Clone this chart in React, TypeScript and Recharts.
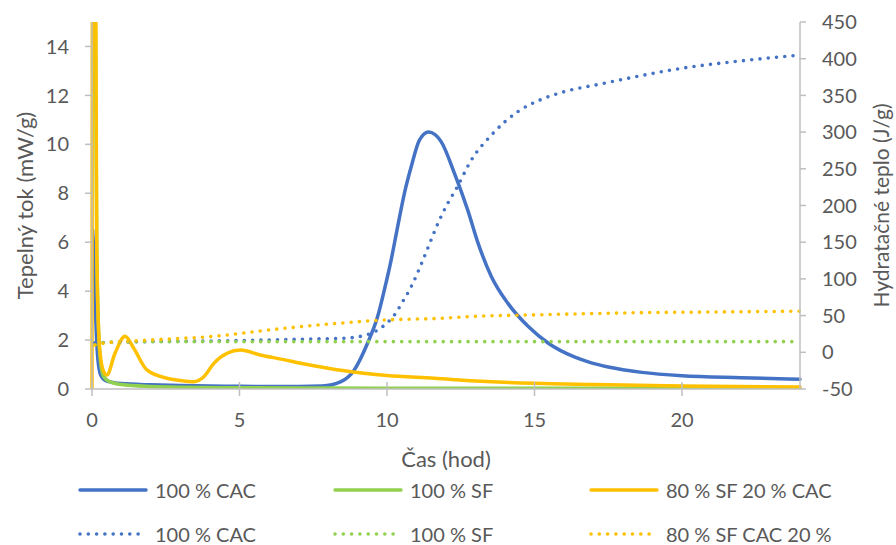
import React from "react";
import { Legend, Line, LineChart, XAxis, YAxis } from "recharts";

// heat flow (mW/g), left axis
const cacFlowTime = [0.02, 0.08, 0.13, 0.2, 0.3, 0.45, 0.7, 1, 2, 3, 5, 7, 7.8, 8.44, 8.89, 9.34, 9.68, 9.91, 10.14, 10.36, 10.59, 10.82, 11.1, 11.41, 11.84, 12.29, 12.74, 13.09, 13.54, 14.1, 14.79, 15.47, 16.37, 16.9, 17.5, 18.64, 20, 22, 24];
const cacFlowValue = [6.5, 5.0, 2.8, 1.2, 0.55, 0.35, 0.27, 0.22, 0.17, 0.14, 0.11, 0.1, 0.12, 0.3, 0.78, 1.87, 2.95, 4.05, 5.27, 6.63, 8.0, 9.08, 10.17, 10.5, 10.1, 8.8, 7.3, 5.95, 4.59, 3.5, 2.55, 1.87, 1.3, 1.08, 0.9, 0.68, 0.54, 0.46, 0.4];

const sfFlowTime = [0.03, 0.1, 0.16, 0.22, 0.3, 0.4, 0.6, 1, 2, 3, 5, 8, 12, 18, 24];
const sfFlowValue = [40, 18, 6, 2.5, 1.0, 0.5, 0.3, 0.18, 0.1, 0.07, 0.05, 0.04, 0.03, 0.03, 0.02];

const mixFlowTime = [0, 0.04, 0.13, 0.16, 0.22, 0.3, 0.4, 0.5, 0.78, 1.12, 1.4, 1.86, 2.54, 3.0, 3.45, 3.79, 4.13, 4.58, 5.03, 5.7, 6.5, 7.07, 8, 9, 10, 11.6, 13, 15, 17, 20, 24];
const mixFlowValue = [0, 40, 16, 6, 2.5, 1.2, 0.7, 0.57, 1.46, 2.16, 1.7, 0.78, 0.44, 0.35, 0.3, 0.5, 1.05, 1.46, 1.59, 1.39, 1.2, 1.05, 0.85, 0.67, 0.55, 0.44, 0.33, 0.23, 0.18, 0.12, 0.08];

// hydration heat (J/g), right axis
const cacHeatTime = [0.1, 0.5, 1, 3, 5, 7, 8, 8.55, 9.4, 9.85, 10.25, 10.53, 10.82, 11.16, 11.38, 11.72, 12.06, 12.35, 12.86, 13.54, 14.44, 15.2, 16, 17.3, 18.5, 20, 22, 24];
const cacHeatValue = [13, 13.5, 14, 15, 16, 17.7, 18.5, 19.1, 24.9, 34.9, 50.8, 68.9, 89.4, 120, 141.7, 175, 203, 223, 262, 296, 328, 344, 355, 366, 376, 387, 397, 405];

const sfHeatTime = [0.1, 0.3, 0.6, 1, 3, 24];
const sfHeatValue = [10, 12.5, 13.8, 14.2, 14.5, 14.5];

const mixHeatTime = [0.1, 0.5, 1, 2, 3, 3.5, 4.35, 4.9, 5.7, 7.07, 8.5, 9.9, 11.84, 12.74, 15, 17.3, 18.64, 20, 24];
const mixHeatValue = [10, 13, 14.5, 16.8, 19, 19.9, 22.6, 25, 29, 34.9, 40, 44, 46.3, 48.5, 51, 53, 54, 54.5, 56];

const xTicks = [0, 5, 10, 15, 20];
const leftTicks = [0, 2, 4, 6, 8, 10, 12, 14];
const rightTicks = [-50, 0, 50, 100, 150, 200, 250, 300, 350, 400, 450];

const toPoints = (ts: number[], vs: number[]) => ts.map((t, i) => ({ t, v: vs[i] }));

const BLUE = "#4472C4";
const GREEN = "#92D050";
const YELLOW = "#FFC000";
const TEXT = "#595959";
const AXIS = "#BFBFBF";
const FONT = "Lato, 'Open Sans', sans-serif";
const DOTS = "0 8.3";

const X_TICK_SIZE = 7;
const X_TICK_MARGIN = 17;

const series = [
  { key: "cacFlow", name: "100 % CAC", axis: "left", color: BLUE, dotted: false, data: toPoints(cacFlowTime, cacFlowValue) },
  { key: "sfFlow", name: "100 % SF", axis: "left", color: GREEN, dotted: false, data: toPoints(sfFlowTime, sfFlowValue) },
  { key: "mixFlow", name: "80 % SF 20 % CAC", axis: "left", color: YELLOW, dotted: false, data: toPoints(mixFlowTime, mixFlowValue) },
  { key: "cacHeat", name: "100 % CAC", axis: "right", color: BLUE, dotted: true, data: toPoints(cacHeatTime, cacHeatValue) },
  { key: "sfHeat", name: "100 % SF", axis: "right", color: GREEN, dotted: true, data: toPoints(sfHeatTime, sfHeatValue) },
  { key: "mixHeat", name: "80 % SF CAC 20 %", axis: "right", color: YELLOW, dotted: true, data: toPoints(mixHeatTime, mixHeatValue) },
];

function XTick(props: any) {
  const { x, y, payload } = props;
  const axisY = y - X_TICK_SIZE - X_TICK_MARGIN;
  return (
    <g>
      <line x1={x} x2={x} y1={axisY - 7} y2={axisY} stroke={AXIS} strokeWidth={1.5} />
      <text x={x} y={y} dy="0.71em" textAnchor="middle" fill={TEXT} fontSize={20} fontFamily={FONT}>
        {payload.value}
      </text>
    </g>
  );
}

const legendCols = [78, 333, 589];

function ChartLegend() {
  return (
    <div style={{ position: "relative", width: 896, height: 76, fontFamily: FONT, fontSize: 20, color: TEXT }}>
      {series.map((s, i) => {
        const row = s.dotted ? 1 : 0;
        const col = i % 3;
        return (
          <div
            key={s.key}
            style={{ position: "absolute", left: legendCols[col], top: 22 + row * 44 - 10, height: 20, display: "flex", alignItems: "center", whiteSpace: "nowrap", lineHeight: "20px" }}
          >
            <svg width={70} height={10} style={{ marginRight: 7 }}>
              <line
                x1={2}
                x2={68}
                y1={5}
                y2={5}
                stroke={s.color}
                strokeWidth={s.dotted ? 3.6 : 3.5}
                strokeLinecap="round"
                strokeDasharray={s.dotted ? DOTS : undefined}
              />
            </svg>
            <span>{s.name}</span>
          </div>
        );
      })}
    </div>
  );
}

export default function App() {
  return (
    <div style={{ width: 896, height: 545, background: "#fff" }}>
      <style>{`body{margin:0;}`}</style>
      <LineChart width={896} height={545} margin={{ top: 22, right: 0, bottom: 0, left: 0 }} style={{ fontFamily: FONT }}>
        <XAxis
          dataKey="t"
          type="number"
          domain={[0, 24]}
          ticks={xTicks}
          height={156}
          tickSize={X_TICK_SIZE}
          tickMargin={X_TICK_MARGIN}
          tick={<XTick />}
          stroke={AXIS}
          axisLine={{ stroke: AXIS, strokeWidth: 1.5 }}
          tickLine={{ stroke: AXIS, strokeWidth: 1.5 }}
          label={{ value: "Čas (hod)", position: "insideTop", offset: 62, fill: TEXT, fontSize: 22 }}
        />
        <YAxis
          yAxisId="left"
          orientation="left"
          width={92}
          domain={[0, 15]}
          ticks={leftTicks}
          allowDataOverflow
          tickSize={7}
          tickMargin={16}
          tick={{ fill: TEXT, fontSize: 20 }}
          axisLine={{ stroke: AXIS, strokeWidth: 1.5 }}
          tickLine={{ stroke: AXIS, strokeWidth: 1.5 }}
          label={{ value: "Tepelný tok (mW/g)", angle: -90, position: "insideLeft", offset: 25, fill: TEXT, fontSize: 22, style: { textAnchor: "middle" } }}
        />
        <YAxis
          yAxisId="right"
          orientation="right"
          width={96}
          domain={[-50, 450]}
          ticks={rightTicks}
          allowDataOverflow
          tickSize={6}
          tickMargin={16}
          tick={{ fill: TEXT, fontSize: 20 }}
          axisLine={{ stroke: AXIS, strokeWidth: 1.5 }}
          tickLine={{ stroke: AXIS, strokeWidth: 1.5 }}
          label={{ value: "Hydratačné teplo (J/g)", angle: -90, position: "insideRight", offset: 14, fill: TEXT, fontSize: 21, style: { textAnchor: "middle" } }}
        />
        {series.map((s) => (
          <Line
            key={s.key}
            yAxisId={s.axis}
            data={s.data}
            dataKey="v"
            name={s.name}
            type="monotone"
            stroke={s.color}
            strokeWidth={s.dotted ? 3.6 : 3.5}
            strokeDasharray={s.dotted ? DOTS : undefined}
            strokeLinecap="round"
            dot={false}
            activeDot={false}
            isAnimationActive={false}
          />
        ))}
        <Legend
          layout="horizontal"
          verticalAlign="middle"
          align="center"
          wrapperStyle={{ left: 0, top: 468, width: 896 }}
          content={() => <ChartLegend />}
        />
      </LineChart>
    </div>
  );
}
